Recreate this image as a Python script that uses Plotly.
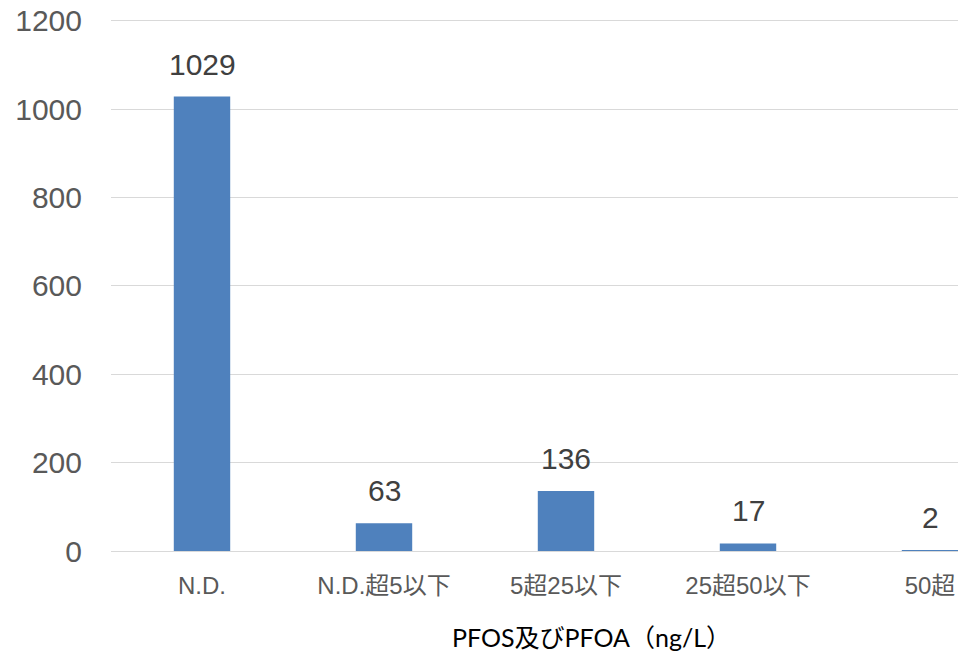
import plotly.graph_objects as go

categories = ["N.D.", "N.D.超5以下", "5超25以下", "25超50以下", "50超"]
counts = [1029, 63, 136, 17, 2]
y_ticks = [0, 200, 400, 600, 800, 1000, 1200]
y_max = 1204.5
x_title = "PFOS及びPFOA（ng/L）"

W, H = 958, 651
ML, MR, MT, MB = 111, 0, 19, 100
PW, PH = W - ML - MR, H - MT - MB

fig = go.Figure()
fig.add_trace(go.Bar(
    x=list(range(len(categories))),
    y=counts,
    width=0.31,
    marker=dict(color="#4F81BD", line=dict(width=0)),
    hoverinfo="skip",
))

for i, v in enumerate(counts):
    fig.add_annotation(
        x=i, y=v, xref="x", yref="y",
        text=str(v), showarrow=False,
        yanchor="bottom", yshift=14,
        font=dict(family="Liberation Sans, Arial, sans-serif", size=30, color="#404040"),
    )

fig.add_annotation(
    x=(591 - ML) / PW, y=-(637 - (H - MB)) / PH,
    xref="paper", yref="paper", text=x_title, showarrow=False,
    xanchor="center", yanchor="middle",
    font=dict(family="Lato, Noto Sans CJK JP, sans-serif", size=25, color="#000000"),
)

fig.update_layout(
    width=W, height=H,
    margin=dict(l=ML, r=MR, t=MT, b=MB, pad=0),
    paper_bgcolor="white", plot_bgcolor="white",
    showlegend=False,
    xaxis=dict(
        range=[-0.5, -0.5 + PW / 182.0],
        tickmode="array",
        tickvals=list(range(len(categories))),
        ticktext=categories,
        showgrid=False, zeroline=False, showline=False,
        ticks="outside", ticklen=13, tickcolor="rgba(0,0,0,0)",
        ticklabeloverflow="allow",
        tickfont=dict(family="Liberation Sans, Noto Sans CJK JP, sans-serif", size=24, color="#595959"),
    ),
    yaxis=dict(
        range=[0, y_max],
        tickmode="array", tickvals=y_ticks,
        showgrid=True, gridcolor="#D9D9D9", gridwidth=1,
        zeroline=True, zerolinecolor="#D9D9D9", zerolinewidth=1,
        showline=False,
        ticks="outside", ticklen=22, tickcolor="rgba(0,0,0,0)",
        ticklabeloverflow="allow",
        tickfont=dict(family="Liberation Sans, Arial, sans-serif", size=30, color="#595959"),
    ),
)

fig.write_html(
    "out.html",
    config={"displayModeBar": False},
    post_script="document.body.style.margin='0';document.body.style.overflow='hidden';",
)
